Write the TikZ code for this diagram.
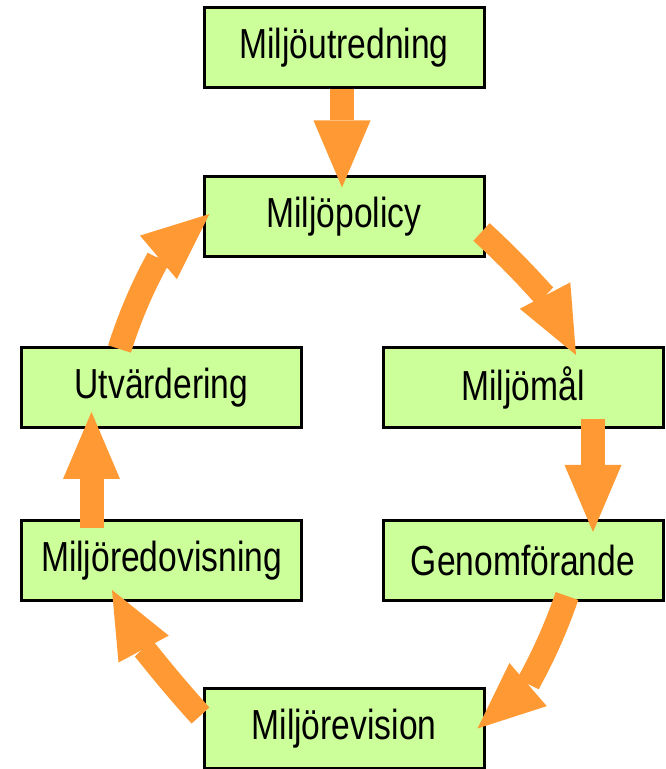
\documentclass[tikz,border=0pt]{standalone}
\usepackage{fontspec}
\setmainfont{Liberation Sans}[FakeStretch=0.8]
\usepackage{tikz}
\usetikzlibrary{arrows.meta}
\definecolor{boxgreen}{HTML}{CCFF99}
\definecolor{arroworange}{HTML}{FF9933}
\tikzstyle{greenbox} = [
    draw=black,
    fill=boxgreen,
    line width=3pt,
    rectangle,
    minimum width=280pt,
    minimum height=80pt,
    font=\fontsize{42}{42}\selectfont
    ]
\tikzstyle{fatarrow} = [
    draw=arroworange,
    line width=24pt,
    -{Triangle[length=67pt,width=57pt,line width=0pt]}
    ]

\begin{document}
\begin{tikzpicture}[x=1pt,y=1pt]
\useasboundingbox (0,0) rectangle (666,769);
% boxes
\node[greenbox] (utred) at (344,721.5) {Miljöutredning};
\node[greenbox] (policy) at (344,552) {Miljöpolicy};
\node[greenbox] (utv) at (161.5,381.5) {Utvärdering};
\node[greenbox] (mal) at (523,381.5) {Miljömål};
\node[greenbox] (redov) at (161.5,208.5) {Miljöredovisning};
\node[greenbox] (genom) at (523,208.5) {Genomförande};
\node[greenbox] (rev) at (344,40.5) {Miljörevision};
% arrows
\draw[fatarrow] ([xshift=-2pt]utred.south) -- ([xshift=-2pt,yshift=-12pt]policy.north);
\draw[fatarrow] ([xshift=-4pt,yshift=-15pt]policy.east) to[bend left=10] ([xshift=53pt,yshift=-9pt]mal.north);
\draw[fatarrow] ([xshift=70pt,yshift=10pt]mal.south) -- ([xshift=70pt,yshift=-13pt]genom.north);
\draw[fatarrow] ([xshift=44pt,yshift=6pt]genom.south) to[bend left=15] ([xshift=-8pt]rev.east);
\draw[fatarrow] ([xshift=-2pt,yshift=13pt]rev.west) to[bend left=7] ([xshift=-49.5pt,yshift=12pt]redov.south);
\draw[fatarrow] ([xshift=-70pt,yshift=-9pt]redov.north) -- ([xshift=-70pt,yshift=17pt]utv.south);
\draw[fatarrow] ([xshift=-42pt,yshift=-3pt]utv.north) to[bend left=16] ([xshift=7pt,yshift=3pt]policy.west);
\end{tikzpicture}
\end{document}
